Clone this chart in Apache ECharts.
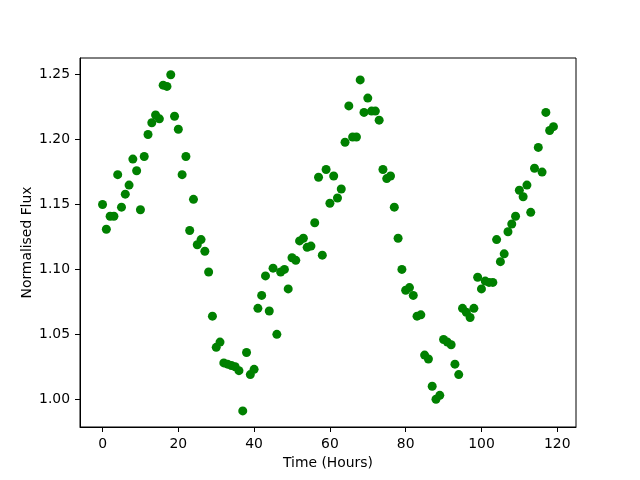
<!DOCTYPE html>
<html>
<head>
<meta charset="utf-8">
<script src="https://cdn.jsdelivr.net/npm/echarts@6/dist/echarts.min.js"></script>
<style>
  html, body { margin: 0; padding: 0; background: #fff; }
  #chart { width: 640px; height: 480px; }
</style>
</head>
<body>
<div id="chart"></div>
<script>
// time in hours
const hours = [
  0, 1, 2, 3, 4, 5, 6, 7, 8, 9, 10, 11, 12, 13, 14, 15, 16, 17, 18, 19,
  20, 21, 22, 23, 24, 25, 26, 27, 28, 29, 30, 31, 32, 33, 34, 35, 36, 37, 38, 39,
  40, 41, 42, 43, 44, 45, 46, 47, 48, 49, 50, 51, 52, 53, 54, 55, 56, 57, 58, 59,
  60, 61, 62, 63, 64, 65, 66, 67, 68, 69, 70, 71, 72, 73, 74, 75, 76, 77, 78, 79,
  80, 81, 82, 83, 84, 85, 86, 87, 88, 89, 90, 91, 92, 93, 94, 95, 96, 97, 98, 99,
  100, 101, 102, 103, 104, 105, 106, 107, 108, 109, 110, 111, 112, 113, 114, 115, 116, 117, 118, 119
];

// normalised flux
const flux = [
  1.150, 1.131, 1.141, 1.141, 1.173, 1.148, 1.158, 1.165, 1.185, 1.176,
  1.146, 1.187, 1.204, 1.213, 1.219, 1.216, 1.242, 1.241, 1.250, 1.218,
  1.208, 1.173, 1.187, 1.130, 1.154, 1.119, 1.123, 1.114, 1.098, 1.064,
  1.040, 1.044, 1.028, 1.027, 1.026, 1.025, 1.022, 0.991, 1.036, 1.019,
  1.023, 1.070, 1.080, 1.095, 1.068, 1.101, 1.050, 1.098, 1.100, 1.085,
  1.109, 1.107, 1.122, 1.124, 1.117, 1.118, 1.136, 1.171, 1.111, 1.177,
  1.151, 1.172, 1.155, 1.162, 1.198, 1.226, 1.202, 1.202, 1.246, 1.221,
  1.232, 1.222, 1.222, 1.215, 1.177, 1.170, 1.172, 1.148, 1.124, 1.100,
  1.084, 1.086, 1.080, 1.064, 1.065, 1.034, 1.031, 1.010, 1.000, 1.003,
  1.046, 1.044, 1.042, 1.027, 1.019, 1.070, 1.067, 1.063, 1.070, 1.094,
  1.085, 1.091, 1.090, 1.090, 1.123, 1.106, 1.112, 1.129, 1.135, 1.141,
  1.161, 1.156, 1.165, 1.144, 1.178, 1.194, 1.175, 1.221, 1.207, 1.210
];

const xTicks = [0, 20, 40, 60, 80, 100, 120];
const yTicks = [1.00, 1.05, 1.10, 1.15, 1.20, 1.25];

const points = hours.map((h, i) => [h, flux[i]]);

const font = 'DejaVu Sans';
const chart = echarts.init(document.getElementById('chart'));

chart.setOption({
  animation: false,
  backgroundColor: '#fff',
  grid: {
    left: 80, right: 64, top: 58, bottom: 53,
    outerBoundsMode: 'none',
    show: true, borderColor: '#000', borderWidth: 1
  },
  xAxis: {
    type: 'value',
    min: -5.95, max: 124.95,
    name: 'Time (Hours)',
    nameLocation: 'middle',
    nameGap: 29,
    nameMoveOverlap: false,
    nameTextStyle: { color: '#000', fontFamily: font, fontSize: 13.9 },
    axisLine: { show: true, onZero: false, lineStyle: { color: '#000', width: 1 } },
    axisTick: { show: true, length: 5, customValues: xTicks, lineStyle: { color: '#000' } },
    axisLabel: { customValues: xTicks, margin: 10, color: '#000', fontFamily: font, fontSize: 13.9 },
    splitLine: { show: false }
  },
  yAxis: {
    type: 'value',
    min: 0.9786, max: 1.2629,
    name: 'Normalised Flux',
    nameLocation: 'middle',
    nameGap: 46,
    nameMoveOverlap: false,
    nameTextStyle: { color: '#000', fontFamily: font, fontSize: 13.9 },
    axisLine: { show: true, onZero: false, lineStyle: { color: '#000', width: 1 } },
    axisTick: { show: true, length: 5, customValues: yTicks, lineStyle: { color: '#000' } },
    axisLabel: {
      customValues: yTicks, margin: 10, color: '#000', fontFamily: font, fontSize: 13.9,
      formatter: v => v.toFixed(2)
    },
    splitLine: { show: false }
  },
  series: [{
    type: 'scatter',
    data: points,
    symbol: 'circle',
    symbolSize: 9,
    itemStyle: { color: '#008000', opacity: 1 }
  }]
});
</script>
</body>
</html>
